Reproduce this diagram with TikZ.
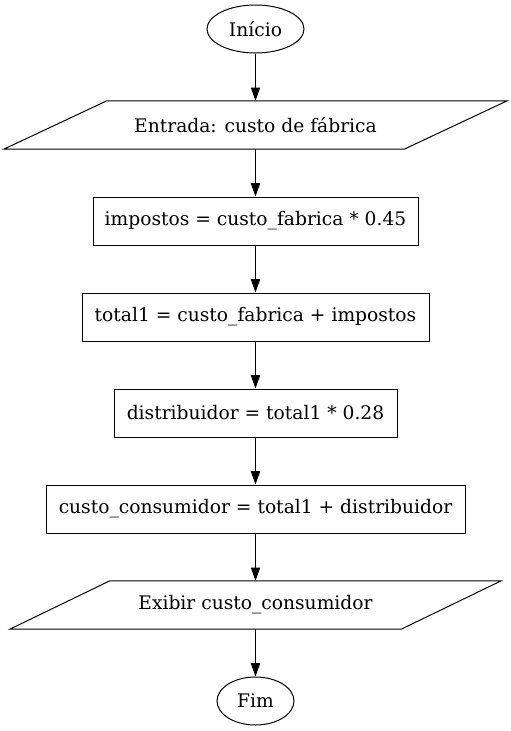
\documentclass[tikz,border=0pt]{standalone}
\usepackage{fontspec}
\setmainfont{DejaVu Serif}
\usetikzlibrary{arrows.meta,shapes.geometric}
\begin{document}
\begin{tikzpicture}[x=1pt,y=-1pt,
  every node/.style={font=\fontsize{18.67}{22}\selectfont, inner sep=0pt},
  lineall/.style={line width=1pt, draw=black},
  term/.style={ellipse, lineall, minimum height=48pt},
  procbox/.style={rectangle, lineall, minimum height=48pt},
  iobox/.style={rectangle, minimum height=48pt},
  conn/.style={lineall, -{Triangle[length=13.3pt,width=9.3pt]}}
]
\useasboundingbox (0,0) rectangle (511,731);
\node[term, minimum width=97pt] (inicio) at (255.5,29) {Início};
\node[iobox, minimum width=400pt] (entrada) at (255.5,125) {Entrada: custo de fábrica};
\draw[lineall] ([xshift=51.5pt]entrada.north west) -- ([xshift=51.5pt]entrada.north east)
  -- ([xshift=-51.5pt]entrada.south east) -- ([xshift=-51.5pt]entrada.south west) -- cycle;
\node[procbox, minimum width=325pt] (b1) at (255.5,221) {impostos = custo\_fabrica * 0.45};
\node[procbox, minimum width=347pt] (b2) at (255.5,317) {total1 = custo\_fabrica + impostos};
\node[procbox, minimum width=283pt] (b3) at (255.5,413) {distribuidor = total1 * 0.28};
\node[procbox, minimum width=419pt] (b4) at (255.5,509) {custo\_consumidor = total1 + distribuidor};
\node[iobox, minimum width=391pt] (exibir) at (255.5,605) {Exibir custo\_consumidor};
\draw[lineall] ([xshift=50pt]exibir.north west) -- ([xshift=50pt]exibir.north east)
  -- ([xshift=-50pt]exibir.south east) -- ([xshift=-50pt]exibir.south west) -- cycle;
\node[term, minimum width=77pt] (fim) at (255.5,701) {Fim};
\draw[conn] (inicio) -- (entrada.north);
\draw[conn] (entrada.south) -- (b1);
\draw[conn] (b1) -- (b2);
\draw[conn] (b2) -- (b3);
\draw[conn] (b3) -- (b4);
\draw[conn] (b4) -- (exibir.north);
\draw[conn] (exibir.south) -- (fim);
\end{tikzpicture}
\end{document}
